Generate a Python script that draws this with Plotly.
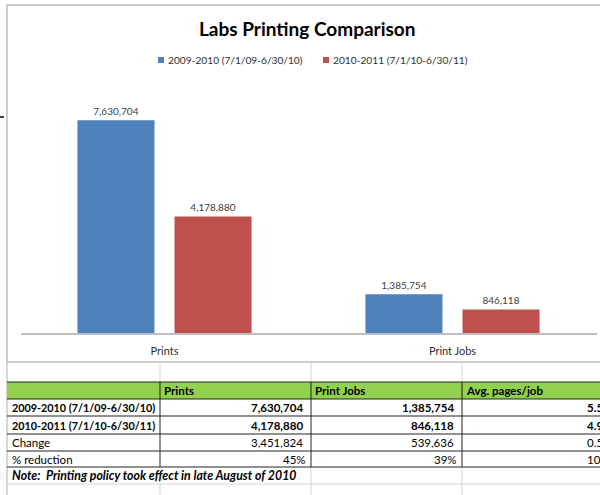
import plotly.graph_objects as go

# ---- data ----
categories = ["Prints", "Print Jobs"]
series_names = ["2009-2010 (7/1/09-6/30/10)", "2010-2011 (7/1/10-6/30/11)"]
values_2009 = [7630704, 1385754]
values_2010 = [4178880, 846118]
colors = ["#4F81BD", "#C0504D"]

table_header = ["", "Prints", "Print Jobs", "Avg. pages/job"]
table_rows = [
    ["2009-2010 (7/1/09-6/30/10)", "7,630,704", "1,385,754", "5.51"],
    ["2010-2011 (7/1/10-6/30/11)", "4,178,880", "846,118", "4.94"],
    ["Change", "3,451,824", "539,636", "0.57"],
    ["% reduction", "45%", "39%", "10%"],
]
table_bold_rows = [True, True, False, False]
note_text = "Note:  Printing policy took effect in late August of 2010"

W, H = 600, 495
FONT = "Lato, Calibri, Carlito, sans-serif"


def px(x):
    return x / W


def py(y):
    return 1 - y / H


fig = go.Figure()
for name, vals, col in zip(series_names, [values_2009, values_2010], colors):
    fig.add_trace(go.Bar(
        x=categories, y=vals, name=name, marker=dict(color=col, line=dict(width=0)),
        texttemplate="%{y:,}", textposition="outside",
        textfont=dict(family=FONT, size=10, color="#404040"),
        cliponaxis=False, showlegend=False,
    ))

shapes = []
annotations = []

# chart area border
shapes.append(dict(type="rect", xref="paper", yref="paper", x0=px(7), x1=px(603),
                   y0=py(362), y1=py(5), line=dict(color="#BFBFBF", width=1.5)))
# spreadsheet column boundary at left
shapes.append(dict(type="line", xref="paper", yref="paper", x0=px(7), x1=px(7),
                   y0=py(362), y1=py(495), line=dict(color="#C8C8C8", width=1.5)))
shapes.append(dict(type="line", xref="paper", yref="paper", x0=px(0), x1=px(4),
                   y0=py(117), y1=py(117), line=dict(color="#000000", width=1.5)))

# title
annotations.append(dict(text="<b>Labs Printing Comparison</b>", xref="paper", yref="paper",
                        x=px(307), y=py(28), showarrow=False, xanchor="center", yanchor="middle",
                        font=dict(family=FONT, size=19, color="#000000")))
# legend
leg_x = [158, 323]
for lx, name, col in zip(leg_x, series_names, colors):
    shapes.append(dict(type="rect", xref="paper", yref="paper", x0=px(lx), x1=px(lx + 6),
                       y0=py(63), y1=py(57), fillcolor=col, line=dict(width=0)))
    annotations.append(dict(text=name, xref="paper", yref="paper", x=px(lx + 8), y=py(60),
                            showarrow=False, xanchor="left", yanchor="middle",
                            font=dict(family=FONT, size=10.2, color="#303030")))

# ---- table ----
col_x = [7, 160, 311, 462, 640]
row_y = [382, 399, 416, 434, 451, 467, 484]
grid = "#D4D4D4"
dark = "#222222"

# light spreadsheet gridlines
for gx in col_x[1:4]:
    shapes.append(dict(type="line", xref="paper", yref="paper", x0=px(gx), x1=px(gx),
                       y0=py(362), y1=py(382), line=dict(color=grid, width=1)))
    shapes.append(dict(type="line", xref="paper", yref="paper", x0=px(gx), x1=px(gx),
                       y0=py(484), y1=py(495), line=dict(color=grid, width=1)))
for gx in col_x[2:4]:
    shapes.append(dict(type="line", xref="paper", yref="paper", x0=px(gx), x1=px(gx),
                       y0=py(467), y1=py(484), line=dict(color=grid, width=1)))
shapes.append(dict(type="line", xref="paper", yref="paper", x0=px(7), x1=px(600),
                   y0=py(484), y1=py(484), line=dict(color=grid, width=1)))

# green header
shapes.append(dict(type="rect", xref="paper", yref="paper", x0=px(7), x1=px(640),
                   y0=py(row_y[1]), y1=py(row_y[0]), fillcolor="#92D050", line=dict(width=0)))
for ry in row_y[:6]:
    shapes.append(dict(type="line", xref="paper", yref="paper", x0=px(7), x1=px(640),
                       y0=py(ry), y1=py(ry), line=dict(color=dark, width=1)))
for cx in col_x[1:4]:
    shapes.append(dict(type="line", xref="paper", yref="paper", x0=px(cx), x1=px(cx),
                       y0=py(row_y[0]), y1=py(row_y[5]), line=dict(color=dark, width=1)))


def cell_text(txt, x, y, anchor, bold=False, italic=False, size=11.5):
    t = txt
    if bold:
        t = "<b>" + t + "</b>"
    if italic:
        t = "<i>" + t + "</i>"
    annotations.append(dict(text=t, xref="paper", yref="paper", x=px(x), y=py(y),
                            showarrow=False, xanchor=anchor, yanchor="middle",
                            font=dict(family=FONT, size=size, color="#000000")))


def row_mid(i):
    return (row_y[i] + row_y[i + 1]) / 2


for j, h in enumerate(table_header):
    if h:
        cell_text(h, col_x[j] + 2, row_mid(0), "left", bold=True)
for i, (row, b) in enumerate(zip(table_rows, table_bold_rows)):
    y = row_mid(i + 1)
    cell_text(row[0], 10, y, "left", bold=b, size=10.8 if b else 11.5)
    pct = row[1].endswith("%")
    for j in range(1, 4):
        right = col_x[j + 1] - (3 if pct else 6)
        if j == 3:
            right = 612
        cell_text(row[j], right, y, "right", bold=b)
cell_text(note_text, 10, row_mid(5), "left", bold=True, italic=True, size=12.3)

fig.update_layout(
    width=W, height=H, margin=dict(l=0, r=0, t=0, b=0),
    paper_bgcolor="white", plot_bgcolor="white",
    barmode="group", bargap=0.326, bargroupgap=0.206,
    xaxis=dict(domain=[px(20.5), px(596.5)], showline=True, linecolor="#BFBFBF", linewidth=1.5,
               showgrid=False, ticks="", tickfont=dict(family=FONT, size=11, color="#303030"),
               ticklabelstandoff=7, fixedrange=True),
    yaxis=dict(domain=[py(333), py(82)], range=[0, 9000000], visible=False, fixedrange=True),
    shapes=shapes, annotations=annotations, showlegend=False,
)

fig.write_html("out.html", config={"displayModeBar": False},
               post_script="document.body.style.margin='0';document.body.style.overflow='hidden';")
